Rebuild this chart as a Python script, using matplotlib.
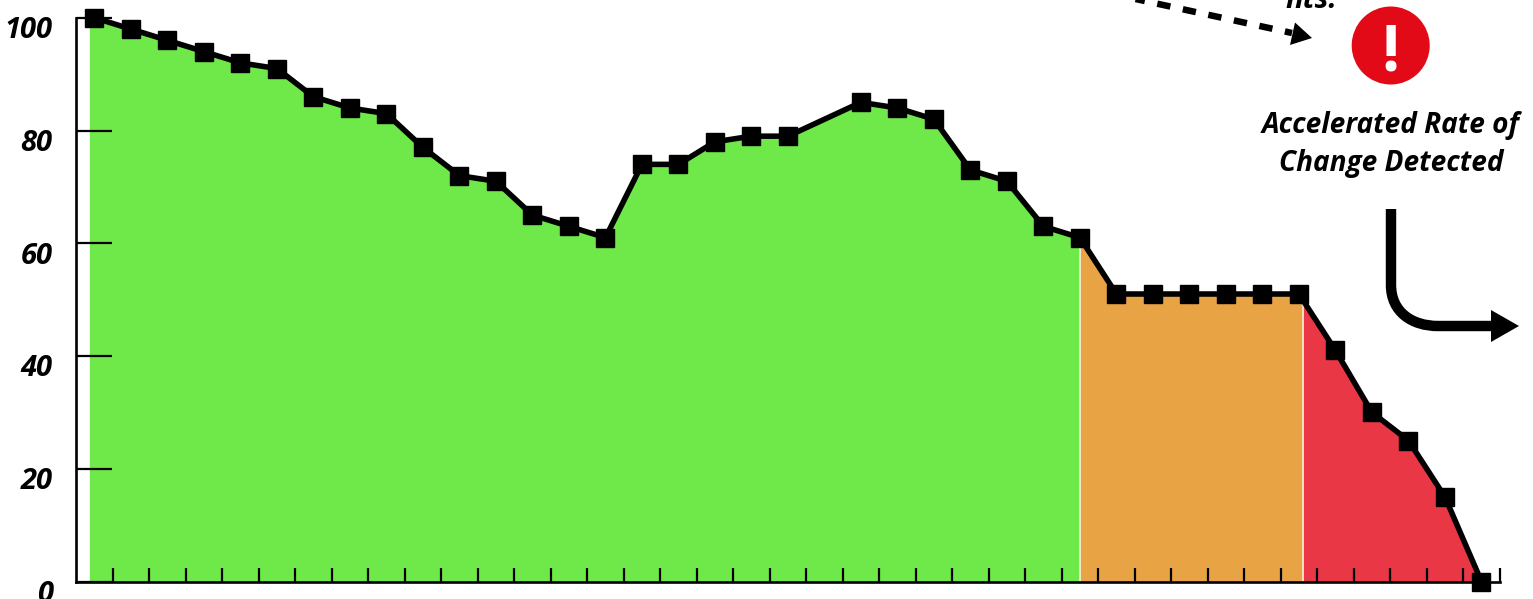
import numpy as np
import matplotlib
matplotlib.use('Agg')
import matplotlib.pyplot as plt
from matplotlib.patches import Circle, PathPatch, Polygon
from matplotlib.path import Path
from matplotlib.transforms import ScaledTranslation

plt.rcParams['font.family'] = ['Open Sans', 'DejaVu Sans']

# position 20 has no marker in the picture
positions = [0, 1, 2, 3, 4, 5, 6, 7, 8, 9, 10, 11, 12, 13, 14, 15, 16, 17, 18, 19,
             21, 22, 23, 24, 25, 26, 27, 28, 29, 30, 31, 32, 33, 34, 35, 36, 37, 38]
values = [100, 98, 96, 94, 92, 91, 86, 84, 83, 77, 72, 71, 65, 63, 61, 74, 74, 78, 79, 79,
          85, 84, 82, 73, 71, 63, 61, 51, 51, 51, 51, 51, 51, 41, 30, 25, 15, 0]
y_ticks = [0, 20, 40, 60, 80, 100]
zone_edges = [-0.14, 27, 33.12, 38]
zone_colors = ['#6FE84A', '#E8A344', '#E93745']

fig = plt.figure(figsize=(15.33, 5.99), dpi=100)
ax = fig.add_axes([76.2/1533, 1 - 581.5/599, (1499.7 - 76.2)/1533, (581.5 - 17.8)/599])

for i, col in enumerate(zone_colors):
    left, right = zone_edges[i], zone_edges[i + 1]
    xs = [left] + [p for p in positions if left < p < right] + [right]
    ax.fill_between(xs, 0, np.interp(xs, positions, values), color=col, lw=0, zorder=1)
for edge in zone_edges[1:3]:
    ax.plot([edge, edge], [0, np.interp(edge, positions, values)], color='white', lw=1.2, alpha=0.75, zorder=2)

ax.plot(positions, values, color='black', lw=4, marker='s', ms=12.5, clip_on=False, zorder=5)

ax.set_xlim(-0.5, 38.5)
ax.set_ylim(0, 100)
ax.set_xticks(np.arange(0.5, 38.6, 1))
ax.set_xticklabels([])
ax.set_yticks(y_ticks)
ax.set_yticklabels([str(v) for v in y_ticks], fontsize=21, fontweight='bold', fontstyle='italic')
ax.tick_params(axis='x', direction='in', length=10, width=1.6, zorder=3)
ax.tick_params(axis='y', direction='in', length=26, width=1.6, pad=17)
offset = ScaledTranslation(0, -6.8/72, fig.dpi_scale_trans)
for lab in ax.get_yticklabels():
    lab.set_transform(lab.get_transform() + offset)
for s in ['top', 'right']:
    ax.spines[s].set_visible(False)
for s in ['left', 'bottom']:
    ax.spines[s].set_linewidth(1.9)
ax.set_facecolor('none')

# annotations sit on an overlay in picture pixels
ov = fig.add_axes([0, 0, 1, 1])
ov.set_xlim(0, 1533)
ov.set_ylim(599, 0)
ov.axis('off')
ov.patch.set_alpha(0)

ov.add_patch(Circle((1390.7, 45.5), 39, color='#E30A17', lw=0))
ov.text(1390.7, 54, '!', color='white', fontsize=46, fontweight='bold', ha='center', va='center')
ov.text(1391, 125, 'Accelerated Rate of', fontsize=20.2, fontweight='bold', fontstyle='italic', ha='center', va='center')
ov.text(1391, 164, 'Change Detected', fontsize=20.2, fontweight='bold', fontstyle='italic', ha='center', va='center')

ov.text(1337, 8.5, 'nts.', fontsize=21, fontweight='bold', fontstyle='italic', ha='right', va='baseline')
ov.plot([1131, 1292], [-2, 33], color='black', lw=4.7, ls=(0.6, (2.05, 1.95)))
ov.add_patch(Polygon([[1295, 22.5], [1312, 38], [1290, 45]], color='black', lw=0))

curve = Path([(1391, 209), (1391, 285), (1391, 312), (1412, 326), (1438, 326), (1492, 326)],
             [Path.MOVETO, Path.LINETO, Path.CURVE4, Path.CURVE4, Path.CURVE4, Path.LINETO])
ov.add_patch(PathPatch(curve, fc='none', ec='black', lw=7.5, capstyle='butt'))
ov.add_patch(Polygon([[1491, 310], [1519, 326], [1491, 342]], color='black', lw=0))

fig.savefig('out.png', dpi=100)
